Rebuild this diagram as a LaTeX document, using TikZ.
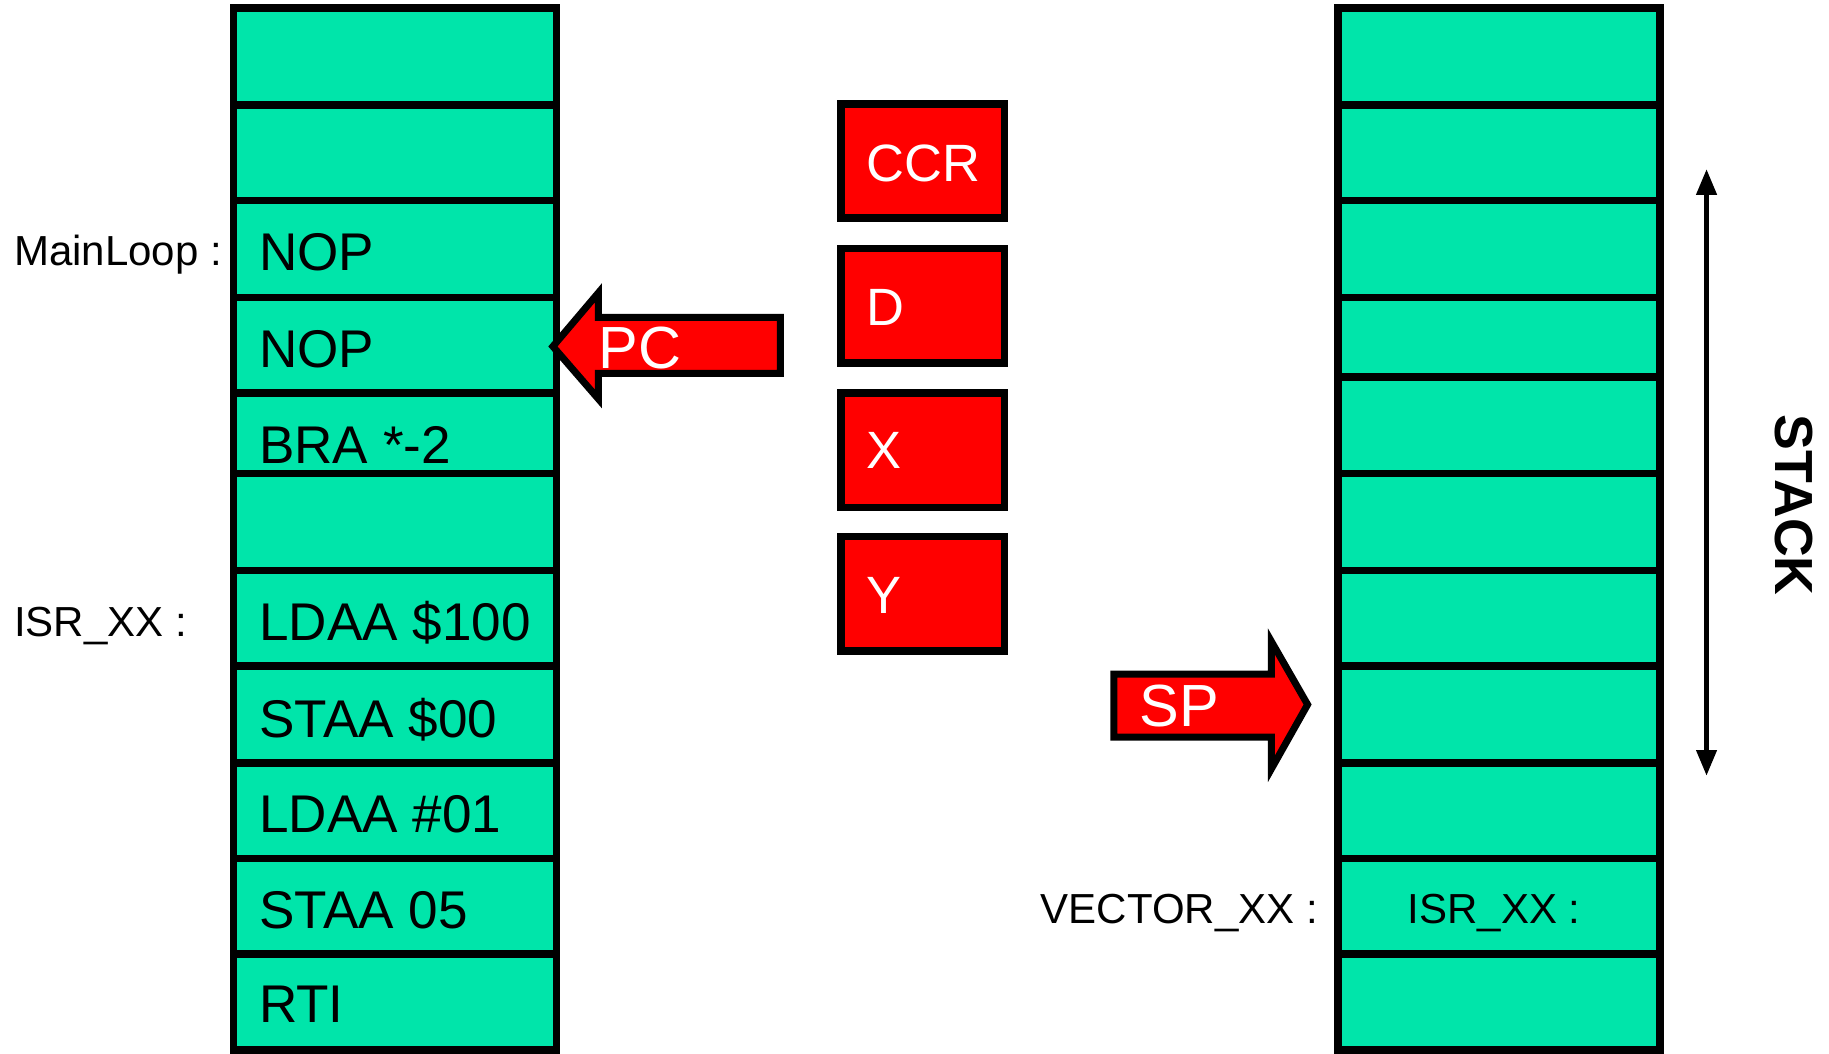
\documentclass[tikz,border=0pt]{standalone}
\usepackage{fontspec}
\setmainfont{Liberation Sans}
\usetikzlibrary{arrows.meta}
\definecolor{cellgreen}{RGB}{0,229,170}
\definecolor{regred}{RGB}{255,0,0}
\begin{document}
\begin{tikzpicture}[x=1pt,y=-1pt,
  cell/.style={draw=black, fill=cellgreen, line width=6.5pt, inner sep=0pt, outer sep=0pt, anchor=north west},
  celltext/.style={anchor=base west, inner sep=0pt, font=\fontsize{45.5}{50}\selectfont},
  lbl/.style={inner sep=0pt, font=\fontsize{36}{40}\selectfont},
  reg/.style={draw=black, fill=regred, line width=6.5pt, inner sep=0pt, outer sep=0pt, minimum width=140pt, minimum height=98pt},
  regtext/.style={anchor=base west, inner sep=0pt, text=white, font=\fontsize{45}{50}\selectfont},
  blockarrow/.style={draw=black, fill=regred, line width=6pt, miter limit=10},
  ptrtext/.style={anchor=base west, inner sep=0pt, text=white, font=\fontsize{51}{56}\selectfont},
]
\useasboundingbox (0,0) rectangle (1568,903);

% left memory column
\foreach \n/\t/\b in {1/7/90, 2/90/172, 3/172/255, 4/255/337, 5/337/406, 6/406/489, 7/489/571, 8/571/654, 9/654/736, 10/736/818, 11/818/900}
  \node[cell, minimum width=277pt, minimum height={\b-\t}] (L\n) at (200,\t) {};

\node[celltext] (tL3) at (222,232) {NOP};
\node[celltext] (tL4) at (222,315) {NOP};
\node[celltext] (tL5) at (222,397) {BRA *-2};
\node[celltext] (tL7) at (222,549) {LDAA \$100};
\node[celltext] (tL8) at (222,632) {STAA \$00};
\node[celltext] (tL9) at (222,714) {LDAA \#01};
\node[celltext] (tL10) at (222,796) {STAA 05};
\node[celltext] (tL11) at (222,877) {RTI};

\node[lbl, anchor=base west] (mainloop) at (12,228) {MainLoop :};
\node[lbl, anchor=base west] (isrlbl) at (12,546) {ISR\_XX :};

% right stack column
\foreach \n/\t/\b in {1/7/90, 2/90/172, 3/172/255, 4/255/323, 5/323/406, 6/406/489, 7/489/571, 8/571/654, 9/654/736, 10/736/818, 11/818/900}
  \node[cell, minimum width=276pt, minimum height={\b-\t}] (R\n) at (1147,\t) {};

\node[lbl, anchor=base] (isrvec) at (1281,792) {ISR\_XX :};
\node[lbl, anchor=base east] (veclbl) at (1130,792) {VECTOR\_XX :};

% registers
\node[reg] (ccr) at (791,138) {};
\node[reg] (regd) at (791,262) {};
\node[reg] (regx) at (791,386) {};
\node[reg] (regy) at (791,509) {};
\node[regtext] (tccr) at (743,156) {CCR};
\node[regtext] (td) at (743,279) {D};
\node[regtext] (tx) at (743,402) {X};
\node[regtext] (ty) at (743,526) {Y};

% PC pointer
\draw[blockarrow] (474,297) -- (513,251) -- (513,272) -- (669,272) -- (669,320) -- (513,320) -- (513,342) -- cycle;
\node[ptrtext] (pc) at (513,316) {PC};

% SP pointer
\draw[blockarrow] (1121,604) -- (1090,550) -- (1090,578) -- (955,578) -- (955,632) -- (1090,632) -- (1090,659) -- cycle;
\node[ptrtext] (sp) at (977,623) {SP};

% STACK arrow
\coordinate (sttop) at (1463,145);
\coordinate (stbot) at (1463,665);
\draw[line width=4pt, {Triangle[length=22pt,width=17pt]}-{Triangle[length=22pt,width=17pt]}] (sttop) -- (stbot);
\node[inner sep=0pt, rotate=-90, font=\bfseries\fontsize{46}{50}\selectfont] (stack) at (1538,433) {STACK};
\end{tikzpicture}
\end{document}
